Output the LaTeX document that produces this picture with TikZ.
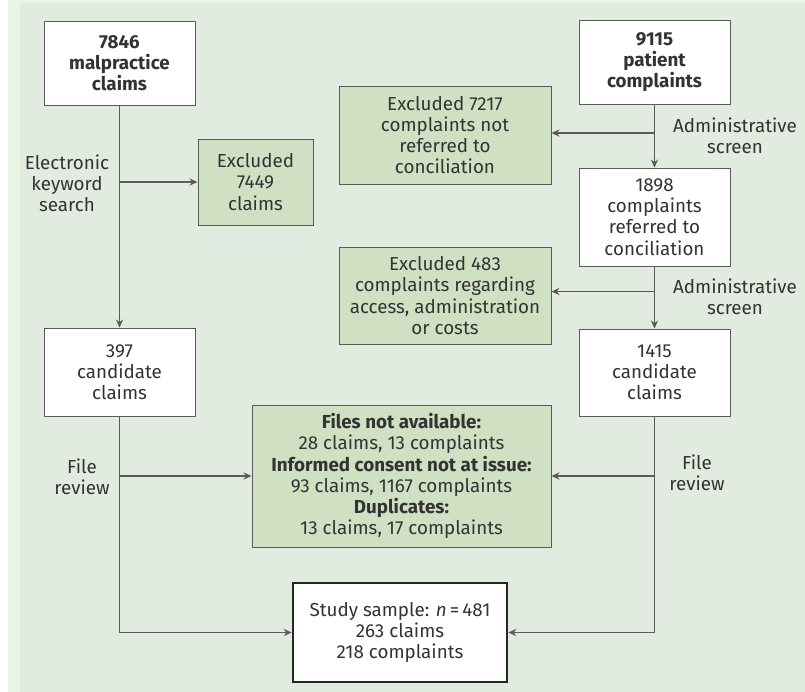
\documentclass[tikz,border=0pt]{standalone}
\usepackage{fontspec}
\setmainfont{Fira Sans}
\usetikzlibrary{arrows.meta,positioning,calc}
\definecolor{panelbg}{HTML}{E2EBDF}
\definecolor{outerbg}{HTML}{E9F5E2}
\definecolor{boxgreen}{HTML}{CFE0C3}
\definecolor{edgegray}{HTML}{5A5A5A}
\definecolor{textgray}{HTML}{333333}

\begin{document}
\begin{tikzpicture}[
  x=0.5pt, y=-0.5pt,
  font=\fontsize{9.4}{10.6}\selectfont,
  text=textgray,
  % --- Estilos de las cajas ---
  whitebox/.style={
    rectangle,
    draw=edgegray,
    line width=0.5pt,
    fill=white,
    align=center,
    inner sep=0pt,
    minimum width=75.5pt
  },
  greenbox/.style={
    rectangle,
    draw=edgegray,
    line width=0.5pt,
    fill=boxgreen,
    align=center,
    inner sep=0pt
  },
  samplebox/.style={
    rectangle,
    draw=black!85,
    line width=1.3pt,
    fill=white,
    align=center,
    inner sep=0pt,
    minimum width=107pt,
    minimum height=49.5pt
  },
  lbl/.style={
    align=center,
    inner sep=0pt
  },
  line/.style={
    -{Stealth[length=4pt,width=3.6pt]},
    line width=0.6pt,
    draw=edgegray
  }
]

% ---- FONDO ----
\useasboundingbox (0,0) rectangle (805,692);
\fill[outerbg] (8,0) rectangle (805,692);
\fill[panelbg] (20,3) rectangle (805,692);

% ---- COLUMNA IZQUIERDA: RECLAMACIONES ----
\node[whitebox, minimum height=42pt] (mal) at (119.5,63) {\bfseries 7846\\\bfseries malpractice\\\bfseries claims};
\node[greenbox, minimum width=57.5pt, minimum height=43pt] (excl1) at (255.5,182) {Excluded\\7449\\claims};
\node[whitebox, minimum height=44pt] (cand1) at (119.5,372) {397\\candidate\\claims};
\node[lbl] (search) at (67,183) {Electronic\\keyword\\search};

% ---- COLUMNA DERECHA: QUEJAS ----
\node[whitebox, minimum height=42pt] (pat) at (654.5,62) {\bfseries 9115\\\bfseries patient\\\bfseries complaints};
\node[greenbox, minimum width=106pt, minimum height=49pt] (excl2) at (445,135) {Excluded 7217\\complaints not\\referred to\\conciliation};
\node[whitebox, minimum height=49pt] (refd) at (654.5,217) {1898\\complaints\\referred to\\conciliation};
\node[greenbox, minimum width=106pt, minimum height=48.5pt] (excl4) at (445,295.5) {Excluded 483\\complaints regarding\\access, administration\\or costs};
\node[whitebox, minimum height=43.5pt] (cand2) at (654.5,372.5) {1415\\candidate\\claims};
\node[lbl] (admin1) at (735,136) {Administrative\\screen};
\node[lbl] (admin2) at (735,297) {Administrative\\screen};

% ---- REVISION DE ARCHIVOS ----
\node[greenbox, minimum width=149.5pt, minimum height=71pt] (excl3) at (401.5,476) {\bfseries Files not available:\\28 claims, 13 complaints\\\bfseries Informed consent not at issue:\\93 claims, 1167 complaints\\\bfseries Duplicates:\\13 claims, 17 complaints};
\node[samplebox] (study) at (400,632.5) {Study sample: \textit{n}\,=\,481\\263 claims\\218 complaints};
\node[lbl] (review1) at (82,477) {File\\review};
\node[lbl] (review2) at (697,473) {File\\review};

% ---- CONEXIONES ----
% Reclamaciones
\draw[line] (mal) -- (cand1);
\draw[line] (excl1.west -| mal.south) -- (excl1.west);
\draw[line] (cand1.south) |- (study.west);
\draw[line] (excl3.west -| cand1.south) -- (excl3.west);

% Quejas
\draw[line] (pat) -- (refd);
\draw[line] ([yshift=1pt]excl2.east -| pat.south) -- ([yshift=1pt]excl2.east);
\draw[line] (refd) -- (cand2);
\draw[line] ([yshift=2pt]excl4.east -| refd.south) -- ([yshift=2pt]excl4.east);
\draw[line] (cand2.south) |- (study.east);
\draw[line] (excl3.east -| cand2.south) -- (excl3.east);

\end{tikzpicture}
\end{document}
